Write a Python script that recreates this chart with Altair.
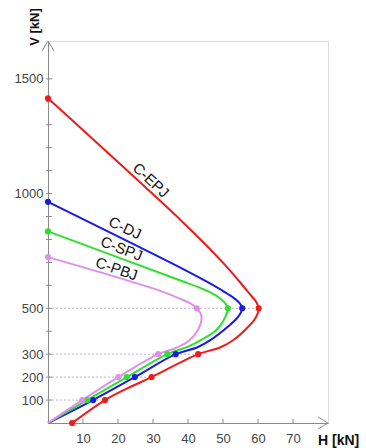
import altair as alt
import pandas as pd

# ---- data ----
series = ["C-EPJ", "C-DJ", "C-SPJ", "C-PBJ"]
colors = ["#f01a1a", "#1a1ae8", "#2ee02e", "#e08fe8"]

red_H = [6.9, 16.3, 22.8, 29.6, 42.9, 49.3, 53.0, 56.6, 59.2, 60.2, 59.5, 57.5, 54.5, 50.5, 45.0, 38.0, 0.0]
red_V = [0, 100, 152, 200, 300, 330, 362, 410, 455, 500, 527, 565, 620, 690, 778, 883, 1415]
red_M = [1, 1, 0, 1, 1, 0, 0, 0, 0, 1, 0, 0, 0, 0, 0, 0, 1]

blue_H = [0.0, 12.9, 24.8, 36.5, 42.7, 46.5, 51.2, 54.2, 55.5, 54.6, 52.6, 49.5, 45.5, 38.5, 0.0]
blue_V = [0, 100, 200, 300, 330, 362, 417, 460, 500, 525, 550, 580, 615, 672, 964]
blue_M = [0, 1, 1, 1, 0, 0, 0, 0, 1, 0, 0, 0, 0, 0, 1]

green_H = [0.0, 11.2, 22.5, 34.1, 40.0, 43.3, 47.9, 49.9, 51.4, 50.6, 49.0, 46.5, 42.8, 38.0, 0.0]
green_V = [0, 100, 200, 300, 333, 358, 402, 440, 500, 522, 545, 568, 593, 620, 835]
green_M = [0, 1, 1, 1, 0, 0, 0, 0, 1, 0, 0, 0, 0, 0, 1]

purple_H = [0.0, 9.8, 20.1, 31.5, 36.5, 40.2, 43.0, 43.9, 43.5, 42.5, 40.8, 38.0, 31.7, 0.0]
purple_V = [0, 100, 200, 300, 327, 357, 410, 455, 480, 500, 520, 540, 578, 723]
purple_M = [0, 1, 1, 1, 0, 0, 0, 0, 0, 1, 0, 0, 0, 1]

grid_V = [100, 200, 300, 500]
grid_H = [16.3, 29.6, 42.9, 60.2]

x_ticks = [10, 20, 30, 40, 50, 60, 70]
y_minor = list(range(100, 1600, 100))
y_labels = [100, 200, 300, 500, 1000, 1500]

label_text = ["C-EPJ", "C-DJ", "C-SPJ", "C-PBJ"]
label_H = [29.4, 22.0, 21.0, 19.6]
label_V = [1058, 850, 760, 672]
label_angle = [43, 25, 21, 19]

# ---- build tables ----
rows = []
for name, H, V, M in [("C-EPJ", red_H, red_V, red_M), ("C-DJ", blue_H, blue_V, blue_M),
                      ("C-SPJ", green_H, green_V, green_M), ("C-PBJ", purple_H, purple_V, purple_M)]:
    for i, (h, v, m) in enumerate(zip(H, V, M)):
        rows.append({"s": name, "H": h, "V": v, "m": m, "i": i})
df = pd.DataFrame(rows)
df_grid = pd.DataFrame({"V": grid_V, "H1": grid_H, "H0": [0] * len(grid_V)})
df_lab = pd.DataFrame({"t": label_text, "H": label_H, "V": label_V, "a": label_angle})
df_yt = pd.DataFrame({"V": y_minor})
df_xt = pd.DataFrame({"H": x_ticks})

FONT = "Liberation Sans"
AX = "#8a8a8a"
xs = alt.Scale(domain=[0, 80], nice=False, zero=True)
ys = alt.Scale(domain=[0, 1665], nice=False, zero=True)
col = alt.Color("s:N", scale=alt.Scale(domain=series, range=colors), legend=None)

x_axis = alt.Axis(values=x_ticks, title=None, grid=False, ticks=False, domain=True,
                  domainColor=AX, domainWidth=1, labelPadding=9, labelFontSize=13,
                  labelColor="#444", labelFont=FONT, format="d")
y_axis = alt.Axis(values=y_labels, title=None, grid=False, ticks=False, domain=True,
                  domainColor=AX, domainWidth=1, labelPadding=5, labelFontSize=13,
                  labelColor="#444", labelFont=FONT, format="d")

grid = alt.Chart(df_grid).mark_rule(color="#b8b8b8", strokeDash=[2, 2], strokeWidth=1).encode(
    x=alt.X("H0:Q", scale=xs, axis=x_axis), x2="H1:Q",
    y=alt.Y("V:Q", scale=ys, axis=y_axis))

yt = alt.Chart(df_yt).mark_rule(color=AX, strokeWidth=1).encode(
    x=alt.value(-2), x2=alt.value(4), y=alt.Y("V:Q", scale=ys))
xt = alt.Chart(df_xt).mark_rule(color=AX, strokeWidth=1).encode(
    y=alt.value(378), y2=alt.value(382), x=alt.X("H:Q", scale=xs))

arrow_x = alt.Chart(pd.DataFrame({"H": [80], "V": [0]})).mark_point(
    shape="M-1,-0.6L0,0L-1,0.6", size=400, filled=False, color=AX, strokeWidth=1, opacity=1).encode(
    x=alt.X("H:Q", scale=xs), y=alt.Y("V:Q", scale=ys))
arrow_y = alt.Chart(pd.DataFrame({"H": [0], "V": [1665]})).mark_point(
    shape="M-0.6,1L0,0L0.6,1", size=400, filled=False, color=AX, strokeWidth=1, opacity=1).encode(
    x=alt.X("H:Q", scale=xs), y=alt.Y("V:Q", scale=ys))

lines = alt.Chart(df).mark_line(strokeWidth=2, interpolate="catmull-rom").encode(
    x=alt.X("H:Q", scale=xs), y=alt.Y("V:Q", scale=ys), color=col,
    detail="s:N", order=alt.Order("i:Q"))

pts = alt.Chart(df).transform_filter("datum.m == 1").mark_circle(size=38, opacity=1).encode(
    x=alt.X("H:Q", scale=xs), y=alt.Y("V:Q", scale=ys), color=col)

labels = alt.Chart(df_lab).mark_text(fontSize=15, font=FONT, color="#111",
                                     align="center", baseline="middle").encode(
    x=alt.X("H:Q", scale=xs), y=alt.Y("V:Q", scale=ys), text="t:N",
    angle=alt.Angle("a:Q", scale=None))

vtitle = alt.Chart(pd.DataFrame({"t": ["V [kN]"]})).mark_text(
    fontSize=13, fontWeight="bold", font=FONT, color="#111", angle=270,
    align="center", baseline="middle").encode(x=alt.value(-13), y=alt.value(-14), text="t:N")
htitle = alt.Chart(pd.DataFrame({"t": ["H [kN]"]})).mark_text(
    fontSize=14, fontWeight="bold", font=FONT, color="#111",
    align="left", baseline="bottom").encode(x=alt.value(270), y=alt.value(407), text="t:N")

chart = alt.layer(grid, yt, xt, arrow_x, arrow_y, lines, pts, labels, vtitle, htitle).properties(
    width=280, height=382,
    autosize=alt.AutoSizeParams(type="none"),
    padding={"left": 48, "top": 41, "right": 38, "bottom": 25},
).configure_view(stroke=None).configure(background="white")

chart.save("out.html", embed_options={"renderer": "svg", "actions": False})
